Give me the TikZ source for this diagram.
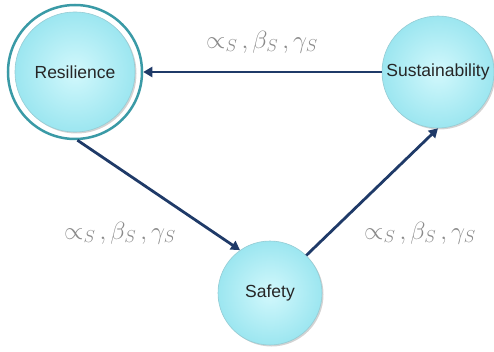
\documentclass[tikz,border=0pt]{standalone}
\usepackage{fontspec}
\setsansfont{Liberation Sans}
\usetikzlibrary{arrows.meta,shadows}
\definecolor{ringc}{HTML}{3A9AA6}
\definecolor{arrowc}{HTML}{1F3A68}
\definecolor{labc}{HTML}{8A8A8A}
\definecolor{ballin}{HTML}{D2F8FC}
\definecolor{ballout}{HTML}{9CE6F0}
\tikzset{
  ball/.style={circle, inner sep=0pt, font=\sffamily\fontsize{17.5}{20}\selectfont,
    text=black!85, inner color=ballin, outer color=ballout,
    draw=ballout!75!gray, line width=0.6pt,
    drop shadow={shadow xshift=1.5pt, shadow yshift=-1.5pt, opacity=0.35}},
  ring/.style={circle, draw=ringc, line width=2.5pt, inner sep=0pt},
  conn/.style={draw=arrowc, line width=2.8pt, -{Triangle[length=9pt,width=10pt]}},
  lab/.style={text=labc, font=\fontsize{27}{30}\selectfont}
}
\begin{document}
\begin{tikzpicture}[x=1pt,y=-1pt]
\useasboundingbox (0,0) rectangle (494,352);
\node[ring, minimum size=134pt] (resring) at (75,72) {};
\node[ball, minimum size=120pt] (res) at (75,72) {Resilience};
\node[ball, minimum size=112pt] (sus) at (438,72) {Sustainability};
\node[ball, minimum size=104pt] (saf) at (270,293) {Safety};
\draw[conn] (sus.west) -- (resring.east);
\draw[conn] (resring.-88) -- (saf.125);
\draw[conn] (saf.46) -- (sus.-90);
\node[lab] (l1) at (262,42) {$\propto_S\,, \beta_S\,, \gamma_S$};
\node[lab] (l2) at (120,233) {$\propto_S\,, \beta_S\,, \gamma_S$};
\node[lab] (l3) at (420,233) {$\propto_S\,, \beta_S\,, \gamma_S$};
\end{tikzpicture}
\end{document}
